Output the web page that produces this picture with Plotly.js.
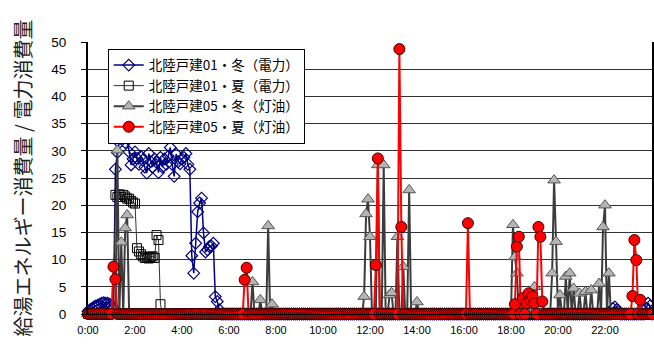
<!DOCTYPE html>
<html>
<head>
<meta charset="utf-8">
<script src="https://cdn.plot.ly/plotly-3.0.1.min.js"></script>
<style>
  html, body { margin: 0; padding: 0; background: #fff; }
  #chart { width: 654px; height: 344px; }
</style>
</head>
<body>
<div id="chart"></div>
<script>
// ---- categories: 5-minute readings over one day ----
const STEP_MINUTES = 5;
const POINT_COUNT = 289;           // 0:00 .. 24:00
const tickValues = [0, 2, 4, 6, 8, 10, 12, 14, 16, 18, 20, 22];
const tickLabels = ['0:00', '2:00', '4:00', '6:00', '8:00', '10:00', '12:00', '14:00', '16:00', '18:00', '20:00', '22:00'];

// ---- series names ----
const seriesNames = ['北陸戸建01・冬（電力）', '北陸戸建01・夏（電力）', '北陸戸建05・冬（灯油）', '北陸戸建05・夏（灯油）'];

// ---- readings: [5-min slot index, value]; every other slot reads 0 ----
const winterElec = [
  [0,0.5],[1,0.8],[2,1],[3,1.3],[4,1.5],[5,1.6],[6,1.8],[7,2],[8,2.1],[9,2],[10,2],[11,1.8],[12,1.5],[13,1.2],
  [14,26.6],[15,29.7],[16,31.5],[17,32.5],[18,32.9],[19,31.5],[20,32.3],[21,29.8],[22,27.4],[23,28.5],[24,29.8],
  [25,28.6],[26,27.5],[27,29],[28,28.3],[29,27],[30,25.9],[31,29.5],[32,28],[33,27],[34,28.5],[35,27.9],[36,26],
  [37,28.8],[38,27],[39,28.5],[40,27.5],[41,29],[42,30.6],[43,27.5],[44,25.3],[45,29.4],[46,28],[47,27.6],[48,28.5],
  [49,28.8],[50,29.5],[51,27.5],[52,26.6],[53,10.7],[54,7.5],[55,13],[56,18.8],[57,20.4],[58,21.3],[59,14.9],
  [60,11.4],[61,11.8],[62,12.4],[63,12.5],[64,13],[65,3.2],[66,2.3],[67,0.8],
  [268,1],[269,1.3],[270,0.8],[271,0.5],[285,1],[286,2],[287,1.5]
];
const summerElec = [
  [14,21.9],[15,21.5],[16,22],[17,21.5],[18,21.9],[19,21.6],[20,21.2],[21,21.2],[22,20.8],[23,20.5],[24,20.3],
  [25,12.1],[26,11.5],[27,11],[28,10.6],[29,10.3],[30,10.4],[31,10.2],[32,10.5],[33,10.6],[34,10.3],
  [35,14.5],[36,13.6],[37,1.8]
];
const winterOil = [
  [15,30.1],[17,13.2],[19,15.8],[20,18.2],
  [84,5.9],[88,2.6],[92,16.2],[94,1.8],
  [141,3.2],[142,18.4],[143,21.1],[144,14.2],[148,27.4],[151,27.4],[154,3.5],[155,3.9],[158,14.2],[161,8.7],[164,22.8],[168,2.2],
  [217,16.4],[218,10.5],[219,7.5],[228,5],[237,7.5],[238,24.6],[239,13.3],
  [241,3.5],[244,6.9],[246,7.5],[248,4.7],[251,3.8],[254,4.1],[257,4.4],[261,5.6],[263,16],[264,20],[266,7.5]
];
const summerOil = [
  [13,8.7],[14,6.4],[80,6.3],[81,8.5],
  [147,9],[148,28.6],[159,48.7],[160,16],
  [194,16.7],
  [218,1.8],[219,12.4],[220,14.2],[222,2.9],[224,2],[225,3.8],[226,2.5],[227,3.2],[228,2],[230,16],[231,14.2],[232,2.3],
  [278,3.3],[279,13.6],[280,9.9],[282,2.6]
];

// ---- build full series ----
const hours = [];
for (let i = 0; i < POINT_COUNT; i++) hours.push(i * STEP_MINUTES / 60);
function expand(readings) {
  const y = new Array(POINT_COUNT).fill(0);
  readings.forEach(([i, v]) => { y[i] = v; });
  return y;
}

const traces = [
  {
    x: hours, y: expand(winterElec), name: seriesNames[0], type: 'scatter', mode: 'lines+markers',
    line: { color: '#000080', width: 1.5 },
    marker: { symbol: 'diamond-open', size: 9, color: '#000080', line: { width: 1.2, color: '#000080' } },
    cliponaxis: false
  },
  {
    x: hours, y: expand(summerElec), name: seriesNames[1], type: 'scatter', mode: 'lines+markers',
    line: { color: '#333333', width: 1 },
    marker: { symbol: 'square-open', size: 9, color: '#000000', line: { width: 1, color: '#000000' } },
    cliponaxis: false
  },
  {
    x: hours, y: expand(winterOil), name: seriesNames[2], type: 'scatter', mode: 'lines+markers',
    line: { color: '#3c3c3c', width: 2 },
    marker: { symbol: 'triangle-up', size: 11, color: '#b4b4b4', line: { width: 1, color: '#555555' } },
    cliponaxis: false
  },
  {
    x: hours, y: expand(summerOil), name: seriesNames[3], type: 'scatter', mode: 'lines+markers',
    line: { color: '#ff0000', width: 2 },
    marker: { symbol: 'circle', size: 11, color: '#ff0000', line: { width: 1, color: '#3a0000' } },
    cliponaxis: false
  }
];

const layout = {
  width: 654, height: 344,
  margin: { l: 88, r: 2, t: 42, b: 30 },
  paper_bgcolor: '#ffffff', plot_bgcolor: '#ffffff',
  font: { family: 'Liberation Sans, Arial, sans-serif', color: '#000' },
  showlegend: true,
  legend: {
    x: 0.035, y: 0.975, xanchor: 'left', yanchor: 'top',
    bgcolor: '#ffffff', bordercolor: '#000000', borderwidth: 1,
    font: { family: 'Noto Sans CJK JP, sans-serif', size: 13.5, color: '#000' },
    tracegroupgap: 0, itemwidth: 30
  },
  xaxis: {
    range: [0, 24], tickmode: 'array', tickvals: tickValues, ticktext: tickLabels,
    showgrid: false, zeroline: false, showline: true, linecolor: '#000', linewidth: 1,
    ticks: '', ticklabelstandoff: 6, tickfont: { size: 11, family: 'Liberation Sans, Arial, sans-serif' }
  },
  yaxis: {
    range: [0, 50], dtick: 5, tick0: 0,
    showgrid: true, gridcolor: '#333333', gridwidth: 1,
    zeroline: false, showline: true, linecolor: '#000', linewidth: 2, mirror: true,
    ticks: 'outside', ticklen: 5, tickcolor: '#000', ticklabelstandoff: 12,
    tickfont: { size: 13.5, family: 'Liberation Sans, Arial, sans-serif' },
    title: { text: '給湯エネルギー消費量 / 電力消費量', standoff: 14,
             font: { size: 20, family: 'Noto Sans CJK JP, sans-serif', color: '#222' } }
  }
};

Plotly.newPlot('chart', traces, layout, { displayModeBar: false, staticPlot: true });
</script>
</body>
</html>
